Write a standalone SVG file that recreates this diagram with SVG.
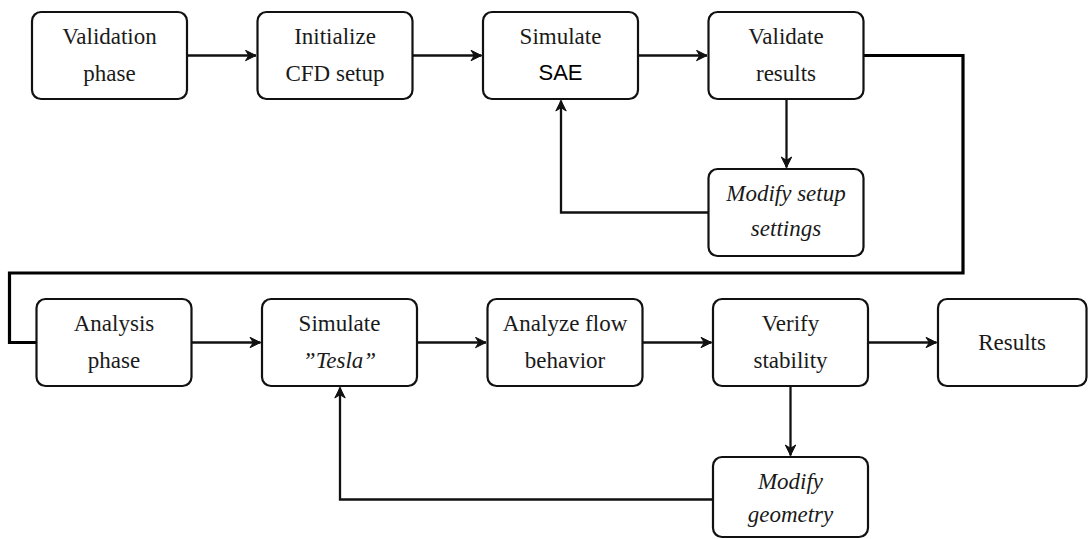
<svg xmlns="http://www.w3.org/2000/svg" width="1088" height="539" viewBox="0 0 1088 539">
<defs>
<marker id="ah" viewBox="-12 -6 13 12" refX="0" refY="0" markerWidth="13" markerHeight="12" markerUnits="userSpaceOnUse" orient="auto">
<path d="M0,0 L-10.5,-5.2 L-7.2,0 L-10.5,5.2 Z" fill="#111" stroke="#111" stroke-width="1" stroke-linejoin="round"/>
</marker>
<style>
rect.n{fill:#fff;stroke:#111;stroke-width:2.2}
text{font-family:"Liberation Serif","Times New Roman",serif;font-size:23px;fill:#1a1a1a;text-anchor:middle}
text.i{font-style:italic}
text.s{font-family:"Liberation Sans",Arial,sans-serif;font-size:22px;fill:#000}
.c{fill:none;stroke:#111;stroke-width:2.3}
.c.a{marker-end:url(#ah)}
.loop{fill:none;stroke:#000;stroke-width:3.2}
</style>
</defs>
<rect width="1088" height="539" fill="#fff"/>
<g id="connectors">
<path class="c a" d="M187,55.5 H256"/>
<path class="c a" d="M412.5,55.5 H481.5"/>
<path class="c a" d="M638,55.5 H707"/>
<path class="c a" d="M786.5,99 V167.5"/>
<path class="c a" d="M708.5,212.5 H561 V100.5"/>
<path class="loop" d="M863.5,55.5 H963 V273 H9.5 V342.5 H36.5"/>
<path class="c a" d="M191.5,342.5 H260.5"/>
<path class="c a" d="M417,342.5 H486"/>
<path class="c a" d="M642.5,342.5 H711.5"/>
<path class="c a" d="M868,342.5 H936.5"/>
<path class="c a" d="M790.5,386 V455.5"/>
<path class="c a" d="M713,499.5 H340 V387.5"/>
</g>
<g id="validation-phase"><rect class="n" x="32" y="12" width="155" height="87" rx="9"/><text x="109.5" y="44">Validation</text><text x="109.5" y="81">phase</text></g>
<g id="initialize-cfd"><rect class="n" x="257.5" y="12" width="155" height="87" rx="9"/><text x="335" y="44">Initialize</text><text x="335" y="81">CFD setup</text></g>
<g id="simulate-sae"><rect class="n" x="483" y="12" width="155" height="87" rx="9"/><text x="560.5" y="44">Simulate</text><text class="s" x="560.5" y="80">SAE</text></g>
<g id="validate-results"><rect class="n" x="708.5" y="12" width="155" height="87" rx="9"/><text x="786" y="44">Validate</text><text x="786" y="81">results</text></g>
<g id="modify-setup"><rect class="n" x="708.5" y="169" width="155" height="87" rx="9"/><text class="i" x="786" y="201">Modify setup</text><text class="i" x="786" y="236">settings</text></g>
<g id="analysis-phase"><rect class="n" x="36.5" y="299" width="155" height="87" rx="9"/><text x="114" y="331">Analysis</text><text x="114" y="368">phase</text></g>
<g id="simulate-tesla"><rect class="n" x="262" y="299" width="155" height="87" rx="9"/><text x="339.5" y="331">Simulate</text><text class="i" x="339.5" y="368">”Tesla”</text></g>
<g id="analyze-flow"><rect class="n" x="487.5" y="299" width="155" height="87" rx="9"/><text x="565" y="331">Analyze flow</text><text x="565" y="368">behavior</text></g>
<g id="verify-stability"><rect class="n" x="713" y="299" width="155" height="87" rx="9"/><text x="790.5" y="331">Verify</text><text x="790.5" y="368">stability</text></g>
<g id="results"><rect class="n" x="938" y="299" width="148.5" height="87" rx="9"/><text x="1012" y="350">Results</text></g>
<g id="modify-geometry"><rect class="n" x="713" y="457" width="155" height="80" rx="9"/><text class="i" x="790.5" y="489">Modify</text><text class="i" x="790.5" y="522">geometry</text></g>
</svg>
